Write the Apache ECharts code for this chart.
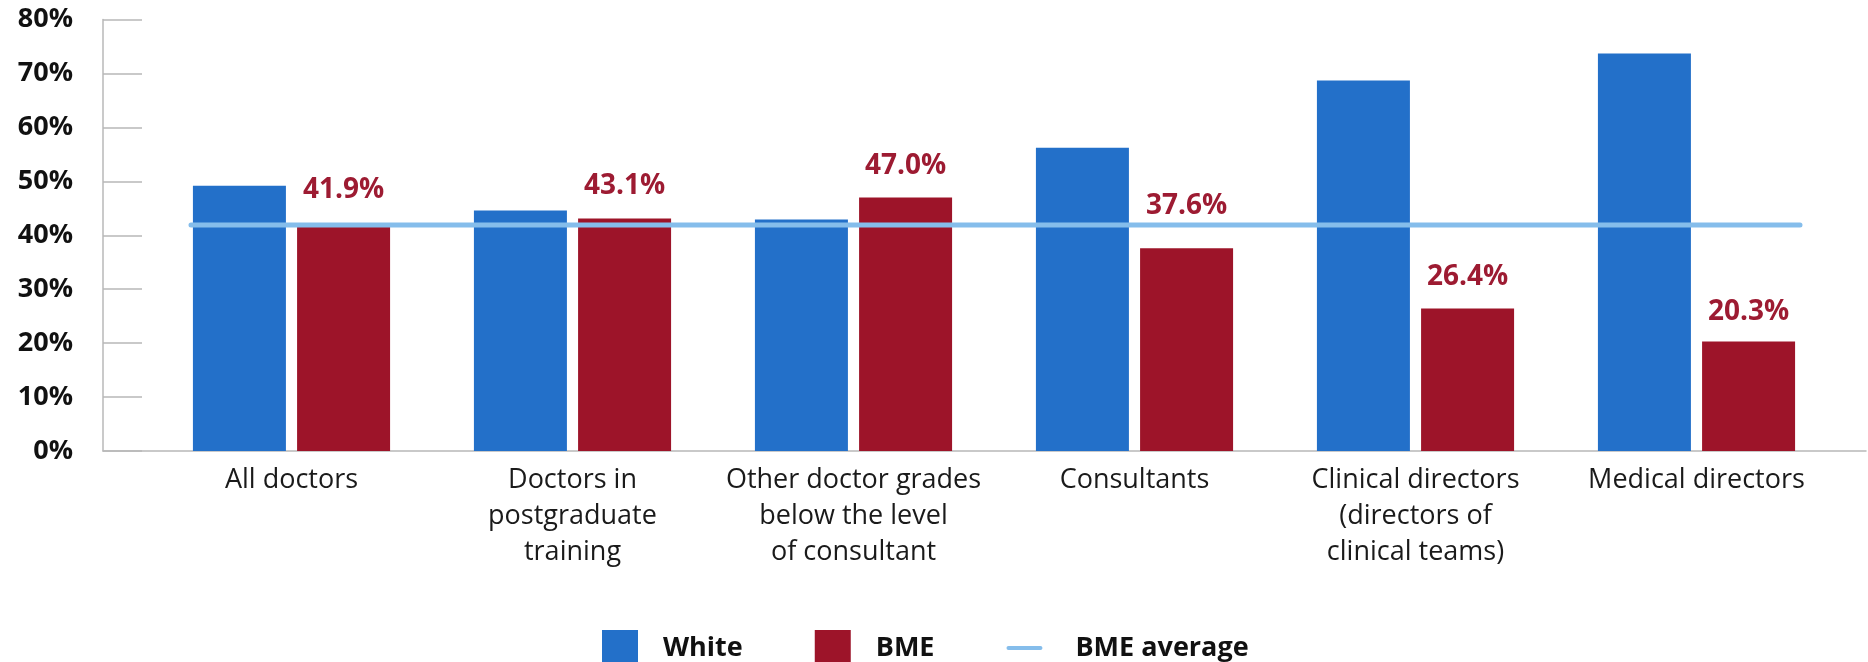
<!DOCTYPE html>
<html>
<head>
<meta charset="utf-8">
<script src="https://cdn.jsdelivr.net/npm/echarts@6/dist/echarts.min.js"></script>
<style>
  html, body { margin: 0; padding: 0; background: #ffffff; }
  #chart { width: 1868px; height: 662px; }
</style>
</head>
<body>
<div id="chart"></div>
<script>
const categories = [
  'All doctors',
  'Doctors in\npostgraduate\ntraining',
  'Other doctor grades\nbelow the level\nof consultant',
  'Consultants',
  'Clinical directors\n(directors of\nclinical teams)',
  'Medical directors'
];
const whiteValues = [49.2, 44.6, 42.9, 56.2, 68.7, 73.7];
const bmeValues = [41.9, 43.1, 47.0, 37.6, 26.4, 20.3];
const bmeAverage = 41.9;
const yTicks = { min: 0, max: 80, interval: 10 };
const seriesNames = ['White', 'BME', 'BME average'];

// style only
const labelDistances = [21, 18, 17, 28, 18, 15];
const BLUE = '#2370C9';
const RED = '#9D1429';
const LINE = '#85BDEB';
const FONT = '"Open Sans", "Noto Sans", "Liberation Sans", sans-serif';

const chart = echarts.init(document.getElementById('chart'), null, { renderer: 'canvas' });

const gridTop = 19.5, gridBottom = 211;

const option = {
  animation: false,
  backgroundColor: '#ffffff',
  textStyle: { fontFamily: FONT },
  grid: [
    { left: 103, right: 2, top: gridTop, bottom: gridBottom, containLabel: false },
    { left: 151, right: 31, top: gridTop, bottom: gridBottom, containLabel: false },
    { left: 191, right: 68, top: gridTop, bottom: gridBottom, containLabel: false }
  ],
  xAxis: [
    {
      gridIndex: 0, type: 'value', min: 0, max: 1,
      axisLine: { show: true, lineStyle: { color: '#b8b8b8', width: 1.5 } },
      axisTick: { show: false }, axisLabel: { show: false }, splitLine: { show: false }
    },
    {
      gridIndex: 1, type: 'category', data: categories,
      axisLine: { show: false }, axisTick: { show: false },
      axisLabel: {
        interval: 0, margin: 11, color: '#1a1a1a', fontSize: 27, lineHeight: 36,
        fontFamily: FONT, align: 'center'
      }
    },
    {
      gridIndex: 2, type: 'category', data: categories, boundaryGap: false, show: false
    }
  ],
  yAxis: [
    {
      gridIndex: 0, type: 'value', min: yTicks.min, max: yTicks.max, interval: yTicks.interval,
      axisLine: { show: true, lineStyle: { color: '#b8b8b8', width: 1.5 } },
      axisTick: { show: true, inside: true, length: 39, lineStyle: { color: '#b8b8b8', width: 1.5 } },
      axisLabel: {
        formatter: '{value}%', margin: 30, color: '#111', fontSize: 27, fontWeight: 'bold', fontFamily: FONT
      },
      splitLine: { show: false }
    },
    { gridIndex: 1, type: 'value', min: yTicks.min, max: yTicks.max, interval: yTicks.interval, show: false },
    { gridIndex: 2, type: 'value', min: yTicks.min, max: yTicks.max, interval: yTicks.interval, show: false }
  ],
  legend: {
    left: 597, top: 625,
    itemWidth: 36, itemHeight: 36, itemGap: 72,
    textStyle: { color: '#111', fontSize: 27, fontWeight: 'bold', fontFamily: FONT, padding: [0, 0, 0, 20] },
    data: [
      { name: seriesNames[0], icon: 'rect' },
      { name: seriesNames[1], icon: 'rect' },
      {
        name: seriesNames[2],
        icon: 'path://M2,0 L33,0 A2,2 0 0 1 33,4 L2,4 A2,2 0 0 1 2,0 Z',
        lineStyle: { color: LINE, width: 5, cap: 'butt' },
        itemStyle: { color: LINE },
        textStyle: { color: '#111', fontSize: 27, fontWeight: 'bold', fontFamily: FONT, padding: [0, 0, 0, 28] }
      }
    ]
  },
  series: [
    {
      name: seriesNames[0], type: 'bar', xAxisIndex: 1, yAxisIndex: 1,
      data: whiteValues, barWidth: 93, barGap: '12%',
      itemStyle: { color: BLUE }
    },
    {
      name: seriesNames[1], type: 'bar', xAxisIndex: 1, yAxisIndex: 1,
      data: bmeValues.map((v, i) => ({
        value: v,
        label: { distance: labelDistances[i] }
      })),
      barWidth: 93, barGap: '12%',
      itemStyle: { color: RED },
      label: {
        show: true, position: 'top', color: '#9D1B32', fontSize: 28, fontWeight: 'bold', fontFamily: FONT,
        formatter: p => p.value.toFixed(1) + '%'
      }
    },
    {
      name: seriesNames[2], type: 'line', xAxisIndex: 2, yAxisIndex: 2,
      data: categories.map(() => bmeAverage),
      symbol: 'none', z: 10,
      lineStyle: { color: LINE, width: 5, cap: 'round' },
      itemStyle: { color: LINE }
    }
  ]
};

chart.setOption(option);
</script>
</body>
</html>
